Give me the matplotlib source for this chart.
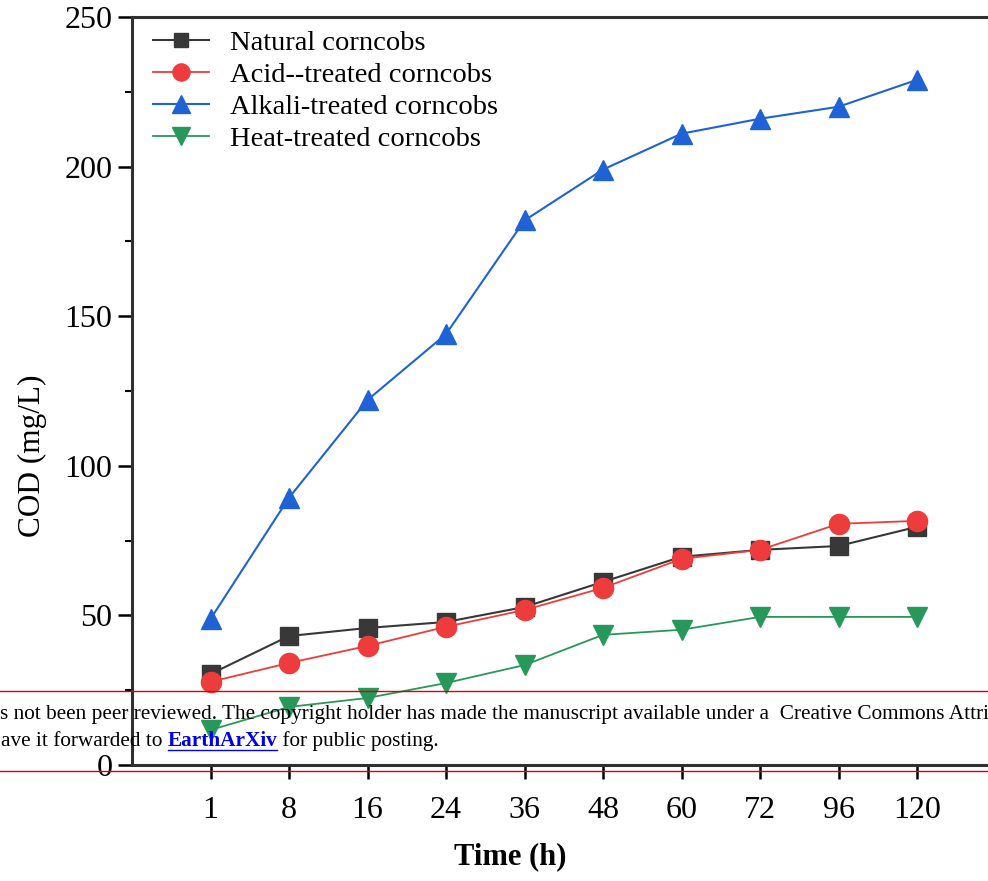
import matplotlib
matplotlib.use("Agg")
import matplotlib.pyplot as plt
from matplotlib.ticker import MultipleLocator

# data
times = ["1", "8", "16", "24", "36", "48", "60", "72", "96", "120"]
natural = [30.4, 43.1, 45.8, 47.8, 52.8, 61.2, 69.6, 71.9, 73.2, 79.6]
acid = [27.8, 34.1, 39.8, 46.2, 51.8, 59.2, 68.9, 71.9, 80.6, 81.6]
alkali = [48.8, 89.3, 122.0, 144.0, 182.0, 199.0, 211.0, 216.0, 220.0, 229.0]
heat = [11.7, 19.4, 22.4, 27.4, 33.4, 43.5, 45.2, 49.5, 49.5, 49.5]

plt.rcParams["font.family"] = ["Liberation Serif", "DejaVu Serif"]

W, H = 988, 881
fig = plt.figure(figsize=(W / 100, H / 100), dpi=100)
ax = fig.add_axes([132 / W, (H - 765) / H, 863.5 / W, (765 - 17) / H])

x = list(range(len(times)))
ax.plot(x, natural, color="#383838", marker="s", ms=12.5, lw=1.5,
        label="Natural corncobs")
ax.plot(x, acid, color="#EE3B3B", marker="o", ms=14.5, lw=1.3,
        label="Acid--treated corncobs")
ax.plot(x, alkali, color="#1F62D6", marker="^", ms=15, lw=1.5,
        label="Alkali-treated corncobs")
ax.plot(x, heat, color="#27985A", marker="v", ms=15, lw=1.3,
        label="Heat-treated corncobs")

ax.set_xlim(-1, 10)
ax.set_ylim(0, 250)
ax.set_xticks(x)
ax.set_xticklabels(times)
ax.yaxis.set_major_locator(MultipleLocator(50))
ax.yaxis.set_minor_locator(MultipleLocator(25))
ax.tick_params(axis="both", which="major", direction="out", length=10,
               width=1.8, labelsize=23, pad=4)
ax.tick_params(axis="x", which="major", pad=12)
ax.tick_params(axis="y", which="minor", direction="out", length=5, width=1.5)
for s in ("left", "top", "bottom"):
    ax.spines[s].set_linewidth(2.2)
    ax.spines[s].set_color("#303030")
ax.spines["right"].set_visible(False)

ax.set_xlabel("Time (h)", fontsize=22, fontweight="bold")
ax.xaxis.set_label_coords(0.438, -0.103)
ax.set_ylabel("COD (mg/L)", fontsize=22.5)
ax.yaxis.set_label_coords(-0.098, 0.414)

leg = ax.legend(loc="upper left", bbox_to_anchor=(0.024, 0.983), frameon=False,
                handlelength=1.98, handletextpad=0.72, labelspacing=0.22,
                borderaxespad=0, borderpad=0, markerscale=0.85,
                prop={"size": 20.5})

# preprint banner overlaid across the figure
for yy in (691, 771):
    fig.add_artist(plt.Line2D([0, 1], [1 - yy / H, 1 - yy / H],
                              color="#E00000", lw=1.0,
                              transform=fig.transFigure))
fig.text(0.0, 1 - 714 / H,
         "s not been peer reviewed. The copyright holder has made the manuscript "
         "available under a  Creative Commons Attribution 4.0 license",
         fontsize=15.3, va="center", ha="left", color="black")
t1 = fig.text(0.001, 1 - 741 / H, "ave it forwarded to ", fontsize=15.3,
              va="center", ha="left", color="black")
fig.canvas.draw()
r = fig.canvas.get_renderer()
bb = t1.get_window_extent(r)
t2 = fig.text(bb.x1 / W, 1 - 741 / H, "EarthArXiv", fontsize=15.3,
              va="center", ha="left", color="#0000EE", fontweight="bold")
bb2 = t2.get_window_extent(r)
fig.add_artist(plt.Line2D([bb2.x0 / W, bb2.x1 / W],
                          [(bb2.y0 + 1) / H, (bb2.y0 + 1) / H],
                          color="#0000EE", lw=1.0, transform=fig.transFigure))
fig.text(bb2.x1 / W, 1 - 741 / H, " for public posting.", fontsize=15.3,
         va="center", ha="left", color="black")

fig.savefig("out.png", dpi=100)
